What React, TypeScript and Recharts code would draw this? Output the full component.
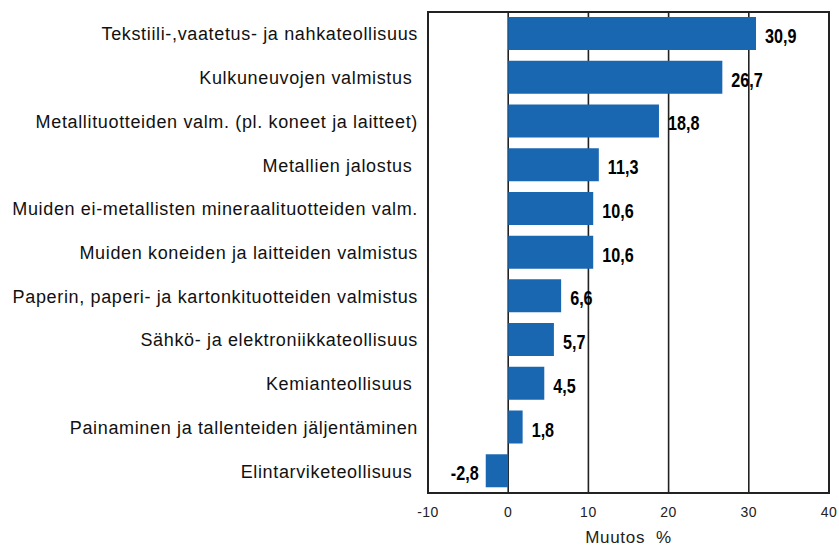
import React from 'react';
import {
  BarChart,
  Bar,
  CartesianGrid,
  XAxis,
  YAxis,
  LabelList,
  ReferenceArea,
} from 'recharts';

const categories = [
  'Tekstiili-,vaatetus- ja nahkateollisuus',
  'Kulkuneuvojen valmistus\u00a0',
  'Metallituotteiden valm. (pl. koneet ja laitteet)',
  'Metallien jalostus\u00a0',
  'Muiden ei-metallisten mineraalituotteiden valm.',
  'Muiden koneiden ja laitteiden valmistus',
  'Paperin, paperi- ja kartonkituotteiden valmistus',
  'Sähkö- ja elektroniikkateollisuus',
  'Kemianteollisuus\u00a0',
  'Painaminen ja tallenteiden jäljentäminen',
  'Elintarviketeollisuus\u00a0',
];

const changes = [30.9, 26.7, 18.8, 11.3, 10.6, 10.6, 6.6, 5.7, 4.5, 1.8, -2.8];

const xTicks = [-10, 0, 10, 20, 30, 40];

const data = categories.map((name, i) => ({ name, value: changes[i] }));

const FONT = '"Liberation Sans", Arial, sans-serif';

function ValueLabel(props: any) {
  const { x, y, width, height, value } = props;
  const left = Math.min(x, x + width);
  const right = Math.max(x, x + width);
  const neg = value < 0;
  const tx = neg ? left - 7 : right + 9;
  const ty = y + height / 2 + 9.5;
  return (
    <text
      transform={`translate(${tx},${ty}) scale(0.83,1)`}
      x={0}
      y={0}
      textAnchor={neg ? 'end' : 'start'}
      fontFamily={FONT}
      fontWeight="bold"
      fontSize={19.5}
      fill="#000"
    >
      {String(value).replace('.', ',')}
    </text>
  );
}

function CategoryTick(props: any) {
  const { x, y, payload } = props;
  return (
    <text
      x={x - 10}
      y={y + 6.5}
      textAnchor="end"
      fontFamily={FONT}
      fontSize={18}
      letterSpacing={0.65}
      fill="#111"
    >
      {payload.value}
    </text>
  );
}

function ValueTick(props: any) {
  const { x, y, payload } = props;
  return (
    <text
      x={x}
      y={y + 24}
      textAnchor="middle"
      fontFamily={FONT}
      fontSize={14}
      letterSpacing={0.5}
      fill="#222"
    >
      {String(payload.value)}
    </text>
  );
}

function AxisTitle(props: any) {
  const { viewBox } = props;
  return (
    <text
      x={viewBox.x + viewBox.width / 2}
      y={viewBox.y + 50}
      textAnchor="middle"
      fontFamily={FONT}
      fontSize={17}
      letterSpacing={0.7}
      fill="#222"
    >
      {'Muutos\u00a0\u00a0%'}
    </text>
  );
}

export default function App() {
  return (
    <div style={{ position: 'absolute', left: 0, top: 0 }}>
      <BarChart
        width={839}
        height={547}
        data={data}
        layout="vertical"
        margin={{ top: 12, right: 10, bottom: 24, left: 0 }}
      >
        <CartesianGrid horizontal={false} stroke="#222" strokeWidth={1.6} />
        <XAxis
          type="number"
          domain={[-10, 40]}
          ticks={xTicks}
          axisLine={false}
          tickLine={false}
          tickSize={0}
          tickMargin={0}
          height={30}
          tick={<ValueTick />}
          label={{ content: AxisTitle }}
        />
        <YAxis
          type="category"
          dataKey="name"
          width={428}
          axisLine={false}
          tickLine={false}
          tickSize={0}
          tickMargin={0}
          interval={0}
          tick={<CategoryTick />}
        />
        <ReferenceArea
          x1={-10}
          x2={40}
          fill="none"
          fillOpacity={0}
          stroke="#222"
          strokeWidth={2}
        />
        <Bar dataKey="value" fill="#1a67b1" barSize={33} isAnimationActive={false}>
          <LabelList dataKey="value" content={ValueLabel} />
        </Bar>
      </BarChart>
    </div>
  );
}
